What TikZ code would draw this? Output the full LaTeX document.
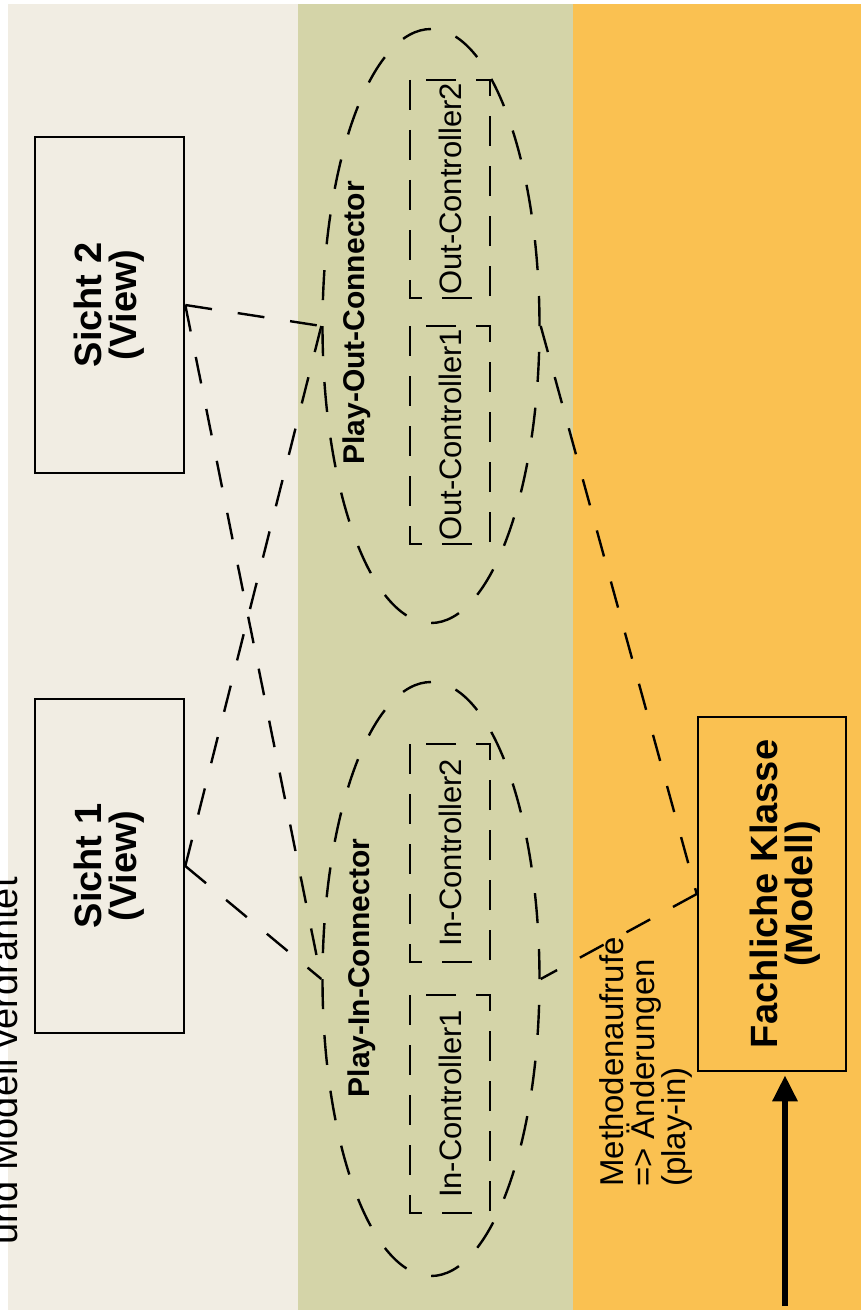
\documentclass[tikz,border=0pt]{standalone}
\usepackage{fontspec}
\setmainfont{Liberation Sans}
\usetikzlibrary{arrows.meta,positioning,shapes.geometric}
\definecolor{pbeige}{HTML}{F1EDE3}
\definecolor{pgreen}{HTML}{D4D4A8}
\definecolor{porange}{HTML}{FAC151}
\tikzset{
  % solid frame, text turned to read upwards
  box/.style   = {rectangle, draw=black, line width=2.6pt, rotate=90, align=center,
                  inner sep=0pt, font=\fontsize{38}{35}\selectfont\bfseries},
  ctrl/.style  = {rectangle, draw=black, line width=2.4pt, dash pattern=on 30pt off 20pt,
                  rotate=90, inner sep=0pt, minimum width=218pt, minimum height=80pt,
                  font=\fontsize{31}{31}\selectfont},
  conn/.style  = {ellipse, draw=black, line width=2.4pt, dash pattern=on 30pt off 26pt,
                  minimum width=217pt, minimum height=594pt, inner sep=0pt},
  wire/.style  = {line width=2.4pt, dash pattern=on 27pt off 26pt},
  tag/.style   = {rotate=90, inner sep=0pt, font=\fontsize{30}{30}\selectfont\bfseries},
  note/.style  = {rotate=90, inner sep=0pt, align=left, font=\fontsize{33}{31}\selectfont},
}

\begin{document}
\begin{tikzpicture}[x=1pt,y=-1pt]
% ---- bands ----------------------------------------------------------
\fill[white] (0,0) rectangle (861,1316);
\fill[pbeige] (8,4) rectangle (298,1310);
\fill[pgreen] (298,4) rectangle (573,1310);
\fill[porange] (573,4) rectangle (861,1310);
\useasboundingbox (0,0) rectangle (861,1316);
\node[rotate=90, anchor=base west, inner sep=0pt, font=\fontsize{38}{38}\selectfont]
      (cut) at (17,1245) {und Modell verdrahtet};

% ---- views ----------------------------------------------------------
\node[box, minimum width=336pt, minimum height=149pt] (sicht2) at (109.5,305) {Sicht 2\\(View)};
\node[box, minimum width=334pt, minimum height=149pt] (sicht1) at (109.5,866) {Sicht 1\\(View)};

% ---- connectors -----------------------------------------------------
\node[conn] (outc) at (431,326) {};
\node[conn] (inc) at (431,979) {};
\node[tag] (outlbl) at (357,323) {Play-Out-Connector};
\node[tag] (inlbl) at (362,968) {Play-In-Connector};
\node[ctrl] (oc2) at (450,189) {Out-Controller2};
\node[ctrl] (oc1) at (450,435) {Out-Controller1};
\node[ctrl] (ic2) at (450,853) {In-Controller2};
\node[ctrl] (ic1) at (450,1104) {In-Controller1};

% ---- model ----------------------------------------------------------
\node[box, minimum width=354pt, minimum height=148pt] (modell) at (772,894) {};
\node[box, draw=none] (modelltxt) at (785,894) {Fachliche Klasse\\(Modell)};
\node[note] (calls) at (646,1062) {Methodenaufrufe\\=> Änderungen\\(play-in)};
\coordinate (src) at (785,1306);
\draw[line width=6pt, -{Triangle[length=26pt,width=24pt]}, shorten >=3pt]
      (src) -- (src |- modell.west);

% ---- wiring ---------------------------------------------------------
\draw[wire] (sicht2.south) -- (outc.west);
\draw[wire] (sicht2.south) -- (inc.west);
\draw[wire] (sicht1.south) -- (outc.west);
\draw[wire] (sicht1.south) -- (inc.west);
\draw[wire] (outc.east) -- (modell.north);
\draw[wire] (modell.north) -- (inc.east);
\end{tikzpicture}
\end{document}
